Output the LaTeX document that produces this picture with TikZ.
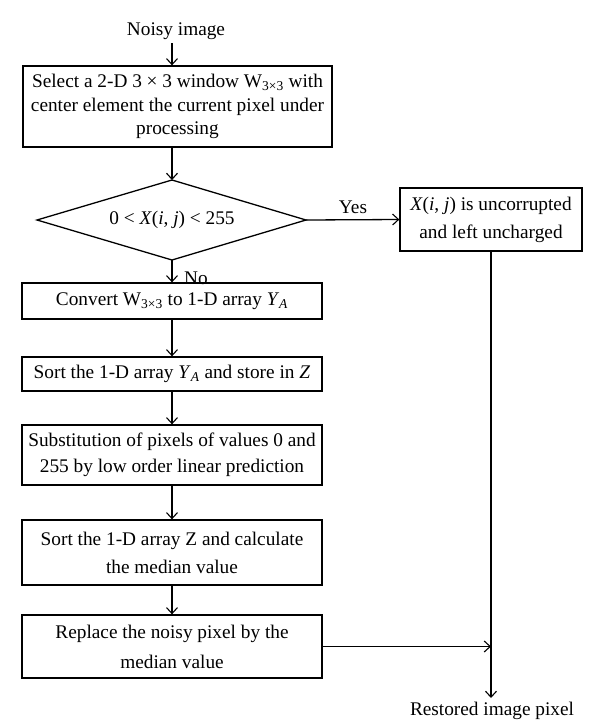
\documentclass[tikz,border=0pt]{standalone}
\usepackage{fontspec}
\setmainfont{Liberation Serif}
\usetikzlibrary{arrows.meta}
\begin{document}
\begin{tikzpicture}[x=1pt,y=-1pt,
  font=\fontsize{19.3}{28}\selectfont,
  line width=1.3pt,
  box/.style={draw, align=center, inner sep=0pt},
  arr/.style={-{Straight Barb[length=6pt,width=11pt,line width=1.1pt]}},
  lbl/.style={inner sep=1pt}]
\useasboundingbox (0,0) rectangle (600,721);
\node[lbl] (in) at (176,31) {Noisy image};
\node[box, minimum width=309pt, minimum height=81pt, font=\fontsize{19.3}{23.5}\selectfont] (b1) at (177.5,106.5)
  {Select a 2-D 3 × 3 window W\textsubscript{3×3} with\\center element the current pixel under\\processing};
% decision diamond
\coordinate (dt) at (172,180);
\coordinate (db) at (172,260);
\coordinate (dl) at (37,220);
\coordinate (dr) at (306,220);
\draw (dt) -- (dr) -- (db) -- (dl) -- cycle;
\node[lbl] (dtext) at (172,220) {0 < \textit{X}(\textit{i}, \textit{j}) < 255};
\node[box, minimum width=182pt, minimum height=63pt] (rb) at (491,219.5)
  {\textit{X}(\textit{i}, \textit{j}) is uncorrupted\\and left uncharged};
\node[box, minimum width=300pt, minimum height=36pt] (c1) at (172,301)
  {Convert W\textsubscript{3×3} to 1-D array \textit{Y}\textsubscript{\textit{A}}};
\node[box, minimum width=300pt, minimum height=34pt] (c2) at (172,374)
  {Sort the 1-D array \textit{Y}\textsubscript{\textit{A}} and store in \textit{Z}};
\node[box, minimum width=300pt, minimum height=60pt, font=\fontsize{19.3}{26.5}\selectfont] (c3) at (172,455)
  {Substitution of pixels of values 0 and\\255 by low order linear prediction};
\node[box, minimum width=300pt, minimum height=65pt] (c4) at (172,552.5)
  {Sort the 1-D array Z and calculate\\the median value};
\node[box, minimum width=300pt, minimum height=63pt, font=\fontsize{19.3}{30}\selectfont] (c5) at (172,646.5)
  {Replace the noisy pixel by the\\median value};
\coordinate (outtop) at (491,698);
\node[lbl, anchor=north] (out) at (492,700) {Restored image pixel};
\node[lbl] (yes) at (353,207) {Yes};
\node[lbl] (no) at (196,278) {No};
% connectors
\coordinate (inb) at (172,43);
\draw[arr] (inb) -- (inb |- b1.north);
\draw[arr] (b1.south -| dt) -- (dt);
\draw[arr] (db) -- (c1.north);
\draw[arr] (c1.south) -- (c2.north);
\draw[arr] (c2.south) -- (c3.north);
\draw[arr] (c3.south) -- (c4.north);
\draw[arr] (c4.south) -- (c5.north);
\draw[arr] (dr) -- (rb.west);
\draw[arr] (rb.south) -- (outtop);
\draw[arr] (c5.east) -- (c5.east -| rb.south);
\end{tikzpicture}
\end{document}
